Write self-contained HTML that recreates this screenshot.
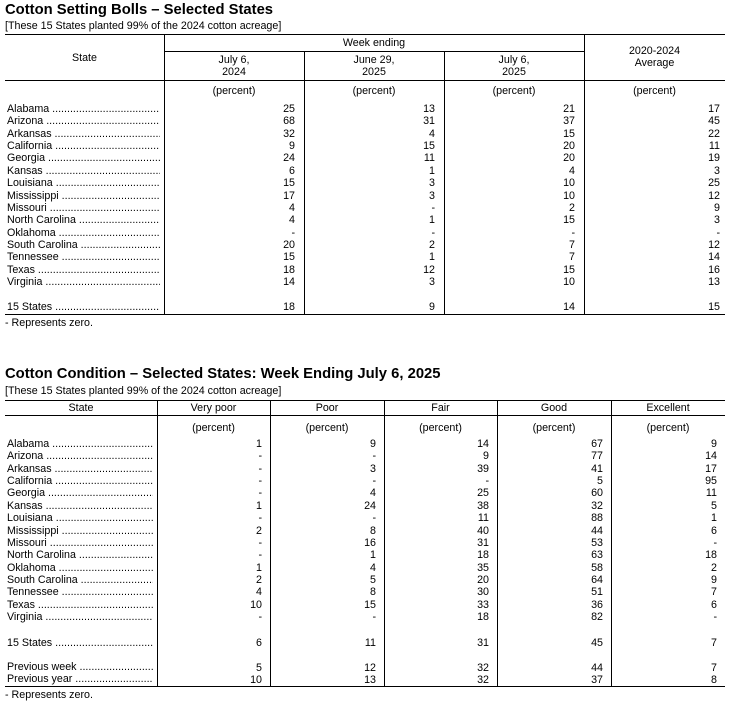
<!DOCTYPE html>
<html><head><meta charset="utf-8"><style>
body{margin:0;width:730px;height:704px;background:#fff;position:relative;font-family:"Liberation Sans",Arial,sans-serif;color:#000;overflow:hidden}
.a{position:absolute;white-space:nowrap}
.t{font-weight:bold;font-size:14.8px}
.s{font-size:10.7px}
.h{position:absolute;height:1px;background:#000}
.v{position:absolute;width:1px;background:#000}
.c{position:absolute;text-align:center;font-size:10.7px;line-height:12px}
.col{position:absolute;text-align:right;font-size:10.7px;line-height:12.36px;white-space:pre}
.st{position:absolute;left:7px;width:153px;overflow:hidden;font-size:10.7px;line-height:12.36px;white-space:nowrap}
</style></head><body>
<!-- Table 1 -->
<div class="a t" style="left:5px;top:2px">Cotton Setting Bolls – Selected States</div>
<div class="a s" style="left:5px;top:20px">[These 15 States planted 99% of the 2024 cotton acreage]</div>
<div class="h" style="left:5px;width:720px;top:34px;height:1.3px"></div>
<div class="h" style="left:164px;width:420px;top:51px"></div>
<div class="h" style="left:5px;width:720px;top:80px;height:1.3px"></div>
<div class="h" style="left:5px;width:720px;top:314px;height:1.3px"></div>
<div class="v" style="left:164px;top:34px;height:280px"></div>
<div class="v" style="left:304px;top:51px;height:263px"></div>
<div class="v" style="left:444px;top:51px;height:263px"></div>
<div class="v" style="left:584px;top:34px;height:280px"></div>
<div class="c" style="left:5px;width:159px;top:52px">State</div>
<div class="c" style="left:164px;width:420px;top:37px">Week ending</div>
<div class="c" style="left:164px;width:140px;top:54px">July 6,<br>2024</div>
<div class="c" style="left:304px;width:140px;top:54px">June 29,<br>2025</div>
<div class="c" style="left:444px;width:140px;top:54px">July 6,<br>2025</div>
<div class="c" style="left:584px;width:141px;top:45px">2020-2024<br>Average</div>
<div class="c" style="left:164px;width:140px;top:85px">(percent)</div>
<div class="c" style="left:304px;width:140px;top:85px">(percent)</div>
<div class="c" style="left:444px;width:140px;top:85px">(percent)</div>
<div class="c" style="left:584px;width:141px;top:85px">(percent)</div>
<div class="st" style="top:103px">Alabama ..............................................<br>Arizona ..............................................<br>Arkansas ..............................................<br>California ..............................................<br>Georgia ..............................................<br>Kansas ..............................................<br>Louisiana ..............................................<br>Mississippi ..............................................<br>Missouri ..............................................<br>North Carolina ..............................................<br>Oklahoma ..............................................<br>South Carolina ..............................................<br>Tennessee ..............................................<br>Texas ..............................................<br>Virginia ..............................................</div>
<div class="col" style="left:164px;width:131px;top:103px">25
68
32
9
24
6
15
17
4
4
-
20
15
18
14</div>
<div class="col" style="left:304px;width:131px;top:103px">13
31
4
15
11
1
3
3
-
1
-
2
1
12
3</div>
<div class="col" style="left:444px;width:131px;top:103px">21
37
15
20
20
4
10
10
2
15
-
7
7
15
10</div>
<div class="col" style="left:584px;width:136px;top:103px">17
45
22
11
19
3
25
12
9
3
-
12
14
16
13</div>
<div class="st" style="top:301px">15 States ..............................................</div>
<div class="col" style="left:164px;width:131px;top:301px">18</div>
<div class="col" style="left:304px;width:131px;top:301px">9</div>
<div class="col" style="left:444px;width:131px;top:301px">14</div>
<div class="col" style="left:584px;width:136px;top:301px">15</div>
<div class="a s" style="left:5px;top:317px">- Represents zero.</div>

<!-- Table 2 -->
<div class="a t" style="left:5px;top:366px">Cotton Condition – Selected States: Week Ending July 6, 2025</div>
<div class="a s" style="left:5px;top:385px">[These 15 States planted 99% of the 2024 cotton acreage]</div>
<div class="h" style="left:5px;width:720px;top:400px;height:1.3px"></div>
<div class="h" style="left:5px;width:720px;top:415px;height:1.3px"></div>
<div class="h" style="left:5px;width:720px;top:686px;height:1.3px"></div>
<div class="v" style="left:157px;top:400px;height:286px"></div>
<div class="v" style="left:270px;top:400px;height:286px"></div>
<div class="v" style="left:384px;top:400px;height:286px"></div>
<div class="v" style="left:497px;top:400px;height:286px"></div>
<div class="v" style="left:611px;top:400px;height:286px"></div>
<div class="c" style="left:5px;width:152px;top:402px">State</div>
<div class="c" style="left:157px;width:113px;top:402px">Very poor</div>
<div class="c" style="left:270px;width:114px;top:402px">Poor</div>
<div class="c" style="left:384px;width:113px;top:402px">Fair</div>
<div class="c" style="left:497px;width:114px;top:402px">Good</div>
<div class="c" style="left:611px;width:114px;top:402px">Excellent</div>
<div class="c" style="left:157px;width:113px;top:422px">(percent)</div>
<div class="c" style="left:270px;width:114px;top:422px">(percent)</div>
<div class="c" style="left:384px;width:113px;top:422px">(percent)</div>
<div class="c" style="left:497px;width:114px;top:422px">(percent)</div>
<div class="c" style="left:611px;width:114px;top:422px">(percent)</div>
<div class="st" style="top:438px;width:146px">Alabama ..............................................<br>Arizona ..............................................<br>Arkansas ..............................................<br>California ..............................................<br>Georgia ..............................................<br>Kansas ..............................................<br>Louisiana ..............................................<br>Mississippi ..............................................<br>Missouri ..............................................<br>North Carolina ..............................................<br>Oklahoma ..............................................<br>South Carolina ..............................................<br>Tennessee ..............................................<br>Texas ..............................................<br>Virginia ..............................................</div>
<div class="col" style="left:157px;width:105px;top:438px">1
-
-
-
-
1
-
2
-
-
1
2
4
10
-</div>
<div class="col" style="left:270px;width:106px;top:438px">9
-
3
-
4
24
-
8
16
1
4
5
8
15
-</div>
<div class="col" style="left:384px;width:105px;top:438px">14
9
39
-
25
38
11
40
31
18
35
20
30
33
18</div>
<div class="col" style="left:497px;width:106px;top:438px">67
77
41
5
60
32
88
44
53
63
58
64
51
36
82</div>
<div class="col" style="left:611px;width:106px;top:438px">9
14
17
95
11
5
1
6
-
18
2
9
7
6
-</div>
<div class="st" style="top:637px;width:146px">15 States ..............................................</div>
<div class="st" style="top:661px;width:146px">Previous week ..............................................<br>Previous year ..............................................</div>
<div class="col" style="left:157px;width:105px;top:637px">6

5
10</div>
<div class="col" style="left:270px;width:106px;top:637px">11

12
13</div>
<div class="col" style="left:384px;width:105px;top:637px">31

32
32</div>
<div class="col" style="left:497px;width:106px;top:637px">45

44
37</div>
<div class="col" style="left:611px;width:106px;top:637px">7

7
8</div>
<div class="a s" style="left:5px;top:689px">- Represents zero.</div>
</body></html>
